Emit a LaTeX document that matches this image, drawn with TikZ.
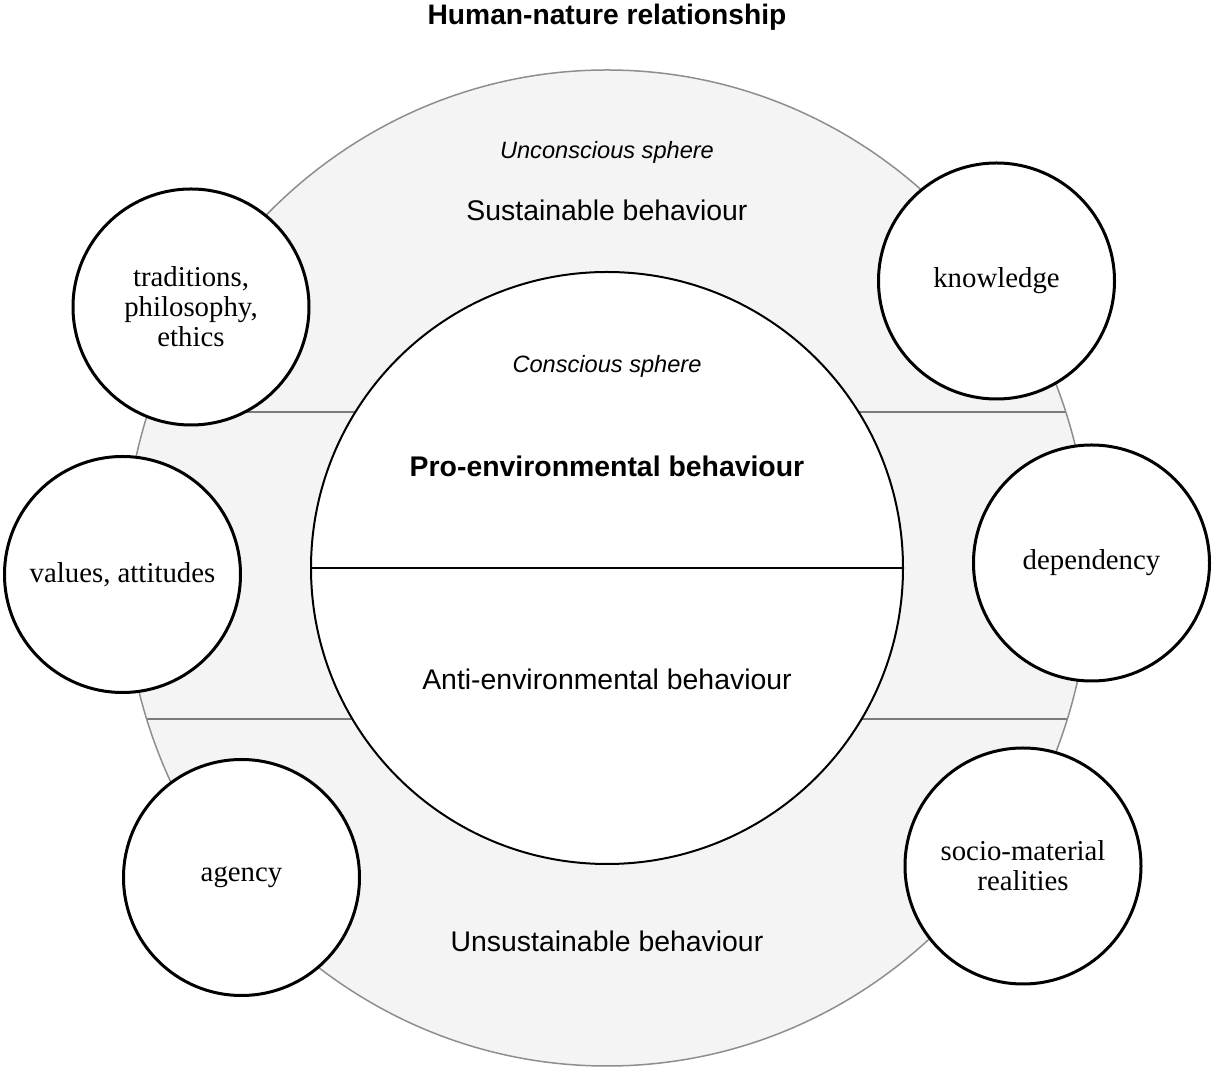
\documentclass[tikz,border=0pt]{standalone}
\usepackage{fontspec}
\setmainfont{Liberation Sans}
\newfontfamily\serifface{Liberation Serif}
\usetikzlibrary{shapes,positioning,fit,calc}

\definecolor{ringfill}{HTML}{F4F4F4}
\definecolor{rimline}{HTML}{8E8E8E}
\definecolor{bandline}{HTML}{7A7A7A}

\begin{document}
\begin{tikzpicture}[x=0.5pt, y=-0.5pt]

        \def\rf{118pt}
        \def\rc{296pt}

        % Styles of the factor circles and of the texts in the spheres
        \tikzset{
            factor/.style={circle, draw, line width=1.5pt, fill=white,
                minimum size=\rf, inner sep=0pt, align=center,
                font=\serifface\fontsize{14.4}{15}\selectfont},
            sphere/.style={anchor=base,
                font=\itshape\fontsize{11.8}{14}\selectfont},
            behaviour/.style={anchor=base,
                font=\fontsize{14.2}{17}\selectfont}
        }

        \useasboundingbox (0,0) rectangle (1212,1068);

        % Outer ring: the unconscious sphere
        \coordinate (O) at (607,568);
        \fill[ringfill] (O) ellipse [x radius=483, y radius=498];
        \begin{scope}
            \clip (O) ellipse [x radius=483, y radius=498];
            \coordinate (UL) at (100,412.5);
            \coordinate (UR) at (1112,412.5);
            \coordinate (LL) at (100,719);
            \coordinate (LR) at (1112,719);
            \draw[bandline, line width=1pt] (UL) -- (UR);
            \draw[bandline, line width=1pt] (LL) -- (LR);
        \end{scope}
        \draw[rimline, line width=0.75pt] (O) ellipse [x radius=483, y radius=498];

        % Inner circle: the conscious sphere
        \node[circle, draw, line width=1pt, fill=white, minimum size=\rc,
            inner sep=0pt] (C) at (O) {};
        \draw[line width=1pt] (C.west) -- (C.east);

        % Texts of the spheres
        \node[anchor=base, font=\bfseries\fontsize{14.1}{17}\selectfont]
            (T) at (607,25) {Human-nature relationship};
        \node[sphere] (US) at (607,159) {Unconscious sphere};
        \node[behaviour] (SB) at (607,221) {Sustainable behaviour};
        \node[sphere] (CS) at (607,373) {Conscious sphere};
        \node[behaviour, font=\bfseries\fontsize{14.2}{17}\selectfont]
            (PB) at (607,477) {Pro-environmental behaviour};
        \node[behaviour] (AB) at (607,690) {Anti-environmental behaviour};
        \node[behaviour] (NB) at (607,952) {Unsustainable behaviour};

        % Factor circles round the ring
        \begin{scope}
            \node[factor] (TR) at (191,307) {traditions,\\philosophy,\\ethics};
            \node[factor] (VA) at (122.5,574.5) {values, attitudes};
            \node[factor] (AG) at (241.5,877.5) {agency};
            \node[factor] (KN) at (996.5,281) {knowledge};
            \node[factor] (DE) at (1091.5,563) {dependency};
            \node[factor] (SM) at (1023,866) {socio-material\\realities};
        \end{scope}

\end{tikzpicture}
\end{document}
